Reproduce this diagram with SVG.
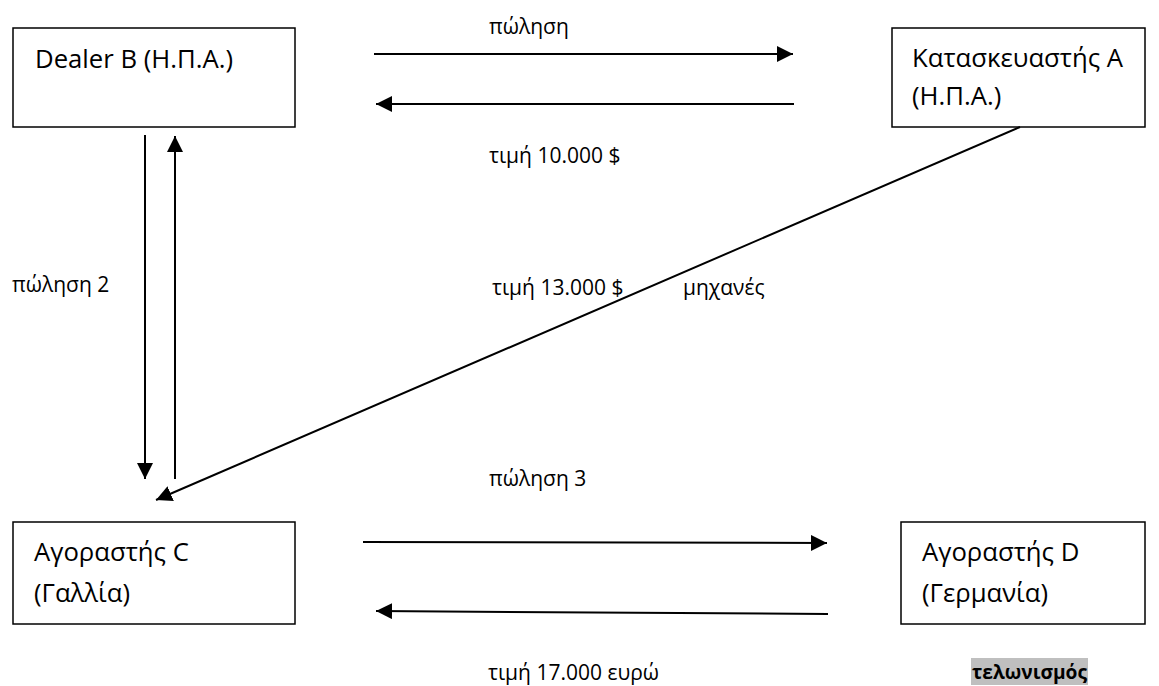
<svg xmlns="http://www.w3.org/2000/svg" width="1159" height="686" viewBox="0 0 1159 686">
  <style>
    .box { fill: #ffffff; stroke: #000000; stroke-width: 1.5; }
    .name { font-family: "Open Sans", "Liberation Sans", "DejaVu Sans", sans-serif; font-size: 25.7px; fill: #000000; }
    .lbl { font-family: "Open Sans", "Liberation Sans", "DejaVu Sans", sans-serif; font-size: 21px; fill: #000000; }
    .bold { font-weight: bold; font-size: 20px; }
    .edge { stroke: #000000; stroke-width: 2; fill: none; marker-end: url(#head); }
  </style>
  <defs>
    <marker id="head" viewBox="0 0 16 16" refX="16" refY="8" markerWidth="16" markerHeight="16" markerUnits="userSpaceOnUse" orient="auto">
      <path d="M0,0 L16,8 L0,16 Z" fill="#000000"/>
    </marker>
  </defs>
  <rect width="1159" height="686" fill="#ffffff"/>

  <!-- parties -->
  <g id="dealer-b">
    <rect class="box" x="13" y="28" width="282" height="99"/>
    <text class="name" x="35" y="68">Dealer B (Η.Π.Α.)</text>
  </g>
  <g id="manufacturer-a">
    <rect class="box" x="892" y="28" width="253" height="99"/>
    <text class="name" x="912" y="67">Κατασκευαστής Α</text>
    <text class="name" x="912" y="105">(Η.Π.Α.)</text>
  </g>
  <g id="buyer-c">
    <rect class="box" x="13" y="522" width="282" height="102"/>
    <text class="name" x="34" y="561">Αγοραστής C</text>
    <text class="name" x="34" y="602">(Γαλλία)</text>
  </g>
  <g id="buyer-d">
    <rect class="box" x="901" y="522" width="244" height="102"/>
    <text class="name" x="922" y="561">Αγοραστής D</text>
    <text class="name" x="922" y="602">(Γερμανία)</text>
  </g>

  <!-- flows between the parties -->
  <g id="connectors">
    <line class="edge" x1="374" y1="54" x2="793" y2="54"/>
    <line class="edge" x1="794" y1="104" x2="376" y2="104"/>
    <line class="edge" x1="145" y1="135" x2="145" y2="479"/>
    <line class="edge" x1="175" y1="479" x2="175" y2="136"/>
    <line class="edge" x1="1020" y1="127" x2="156" y2="500"/>
    <line class="edge" x1="363" y1="542" x2="827" y2="543"/>
    <line class="edge" x1="828" y1="614" x2="376" y2="611"/>
  </g>

  <!-- flow labels -->
  <g id="labels">
    <text class="lbl" x="489" y="34">πώληση</text>
    <text class="lbl" x="489" y="163">τιμή 10.000 $</text>
    <text class="lbl" x="12" y="292">πώληση 2</text>
    <text class="lbl" x="492" y="295">τιμή 13.000 $</text>
    <text class="lbl" x="683" y="295">μηχανές</text>
    <text class="lbl" x="489" y="486">πώληση 3</text>
    <text class="lbl" x="488" y="680">τιμή 17.000 ευρώ</text>
    <rect x="971" y="658" width="117" height="27" fill="#bfbfbf"/>
    <text class="lbl bold" x="972" y="679" textLength="115" lengthAdjust="spacingAndGlyphs">τελωνισμός</text>
  </g>
</svg>
